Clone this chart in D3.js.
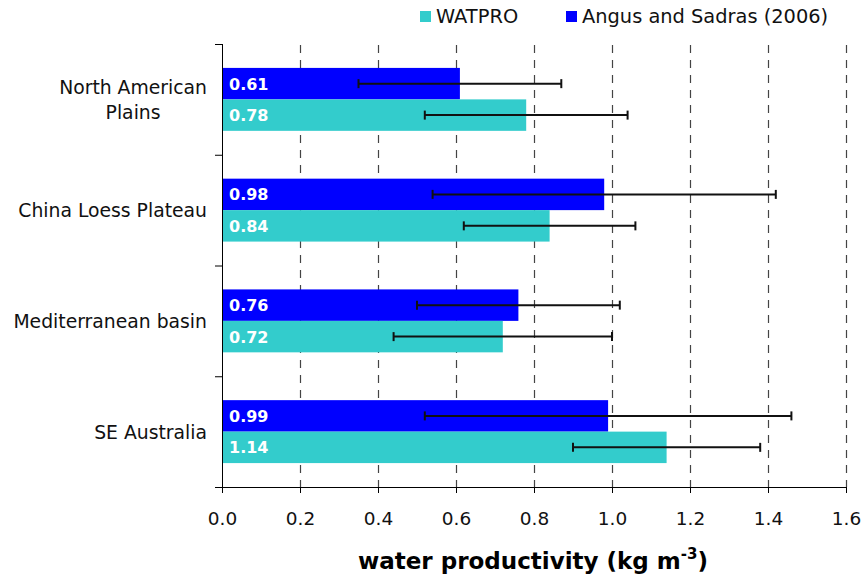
<!DOCTYPE html>
<html><head><meta charset="utf-8">
<script src="https://cdn.jsdelivr.net/npm/d3@7"></script>
<style>body{margin:0;background:#fff}svg{display:block}text{font-family:"DejaVu Sans",Verdana,sans-serif}</style>
</head><body><svg id="c" width="863" height="576"></svg>
<script>
const categories = ["North American Plains","China Loess Plateau","Mediterranean basin","SE Australia"];
const angus = [0.61,0.98,0.76,0.99];
const angusLo = [0.35,0.54,0.50,0.52];
const angusHi = [0.87,1.42,1.02,1.46];
const watpro = [0.78,0.84,0.72,1.14];
const watproLo = [0.52,0.62,0.44,0.90];
const watproHi = [1.04,1.06,1.00,1.38];
const xTicks = [0,0.2,0.4,0.6,0.8,1.0,1.2,1.4,1.6];
const seriesNames = ["WATPRO","Angus and Sadras (2006)"];
const colors = ["#33CCCC","#0000FF"];

const svg = d3.select("#c");
const L=222,R=846,T=44,B=487;
const x = d3.scaleLinear().domain([0,1.6]).range([L,R]);
const y = d3.scaleBand().domain(categories).range([T,B]).paddingInner(0).paddingOuter(0);
const sub = d3.scaleBand().domain(["angus","watpro"]).range([0,y.bandwidth()]).paddingInner(0).paddingOuter(0.76);

// grid
svg.append("g").selectAll("line").data(xTicks.slice(1)).join("line")
  .attr("x1",d=>x(d)+0.5).attr("x2",d=>x(d)+0.5).attr("y1",T+1).attr("y2",B)
  .attr("stroke","#444").attr("stroke-width",1.2).attr("stroke-dasharray","8,7");

const rows = categories.map((c,i)=>({c,
  s:[{k:"angus",v:angus[i],lo:angusLo[i],hi:angusHi[i],col:colors[1]},
     {k:"watpro",v:watpro[i],lo:watproLo[i],hi:watproHi[i],col:colors[0]}]}));
const g = svg.append("g").selectAll("g").data(rows).join("g").attr("transform",d=>`translate(0,${y(d.c)})`);
const bars = g.selectAll("g").data(d=>d.s).join("g");
bars.append("rect").attr("x",x(0)).attr("y",d=>sub(d.k)).attr("width",d=>x(d.v)-x(0)).attr("height",sub.bandwidth()).attr("fill",d=>d.col);
bars.append("text").attr("x",x(0)+7).attr("y",d=>sub(d.k)+sub.bandwidth()/2).attr("dy","0.37em")
  .attr("fill","#fff").attr("font-weight","bold").attr("font-size",16).text(d=>d.v.toFixed(2));
bars.append("line").attr("x1",d=>x(d.lo)).attr("x2",d=>x(d.hi)).attr("y1",d=>sub(d.k)+sub.bandwidth()/2).attr("y2",d=>sub(d.k)+sub.bandwidth()/2)
  .attr("stroke","#111").attr("stroke-width",2);
["lo","hi"].forEach(e=>{
  bars.append("line").attr("x1",d=>x(d[e])).attr("x2",d=>x(d[e])).attr("y1",d=>sub(d.k)+sub.bandwidth()/2-4.5).attr("y2",d=>sub(d.k)+sub.bandwidth()/2+4.5)
   .attr("stroke","#111").attr("stroke-width",2);
});

// axes
const xa = svg.append("g").attr("transform",`translate(0,${B})`)
  .call(d3.axisBottom(x).tickValues(xTicks).tickFormat(d3.format(".1f")).tickSize(6).tickSizeOuter(0));
xa.select(".domain").attr("stroke","#000").attr("d",`M${L-7},0.5H${R}`);
xa.selectAll("text").attr("font-size",18.5).attr("fill","#111").attr("dy","0").attr("y",38).style("font-family","DejaVu Sans");
const yTicks = [T].concat(categories.map(c=>y(c)+y.bandwidth()));
svg.append("line").attr("x1",L+0.5).attr("x2",L+0.5).attr("y1",T).attr("y2",B+6).attr("stroke","#000");
svg.selectAll(".yt").data(yTicks).join("line").attr("class","yt").attr("x1",L-7).attr("x2",L).attr("y1",d=>d+0.5).attr("y2",d=>d+0.5).attr("stroke","#000");

// category labels
categories.forEach((c,i)=>{
  const cy = y(c)+y.bandwidth()/2;
  const lines = c==="North American Plains" ? ["North American","Plains"] : [c];
  const t = svg.append("text").attr("font-size",18.8).attr("fill","#111");
  lines.forEach((ln,j)=>t.append("tspan").text(ln));
  const widths = t.selectAll("tspan").nodes().map(n=>n.getComputedTextLength());
  const maxW = d3.max(widths);
  const cx = 207 - maxW/2;
  t.attr("text-anchor","middle");
  t.selectAll("tspan").attr("x",cx).attr("y",(d,j)=>cy + 7 + (j - (lines.length-1)/2)*25);
});

// axis title
const title = svg.append("text").attr("x",533).attr("y",569).attr("text-anchor","middle")
  .attr("font-size",23).attr("font-weight","bold").attr("fill","#000");
title.append("tspan").text("water productivity (kg m");
title.append("tspan").text("-3").attr("font-size",15).attr("dy",-10);
title.append("tspan").text(")").attr("dy",10);

// legend
const leg = [{n:seriesNames[0],c:colors[0],x:420},{n:seriesNames[1],c:colors[1],x:566}];
const lg = svg.append("g").selectAll("g").data(leg).join("g");
lg.append("rect").attr("x",d=>d.x).attr("y",11).attr("width",11).attr("height",11).attr("fill",d=>d.c);
lg.append("text").attr("x",d=>d.x+16).attr("y",23).attr("font-size",19.4).attr("fill","#111").text(d=>d.n);
</script></body></html>
